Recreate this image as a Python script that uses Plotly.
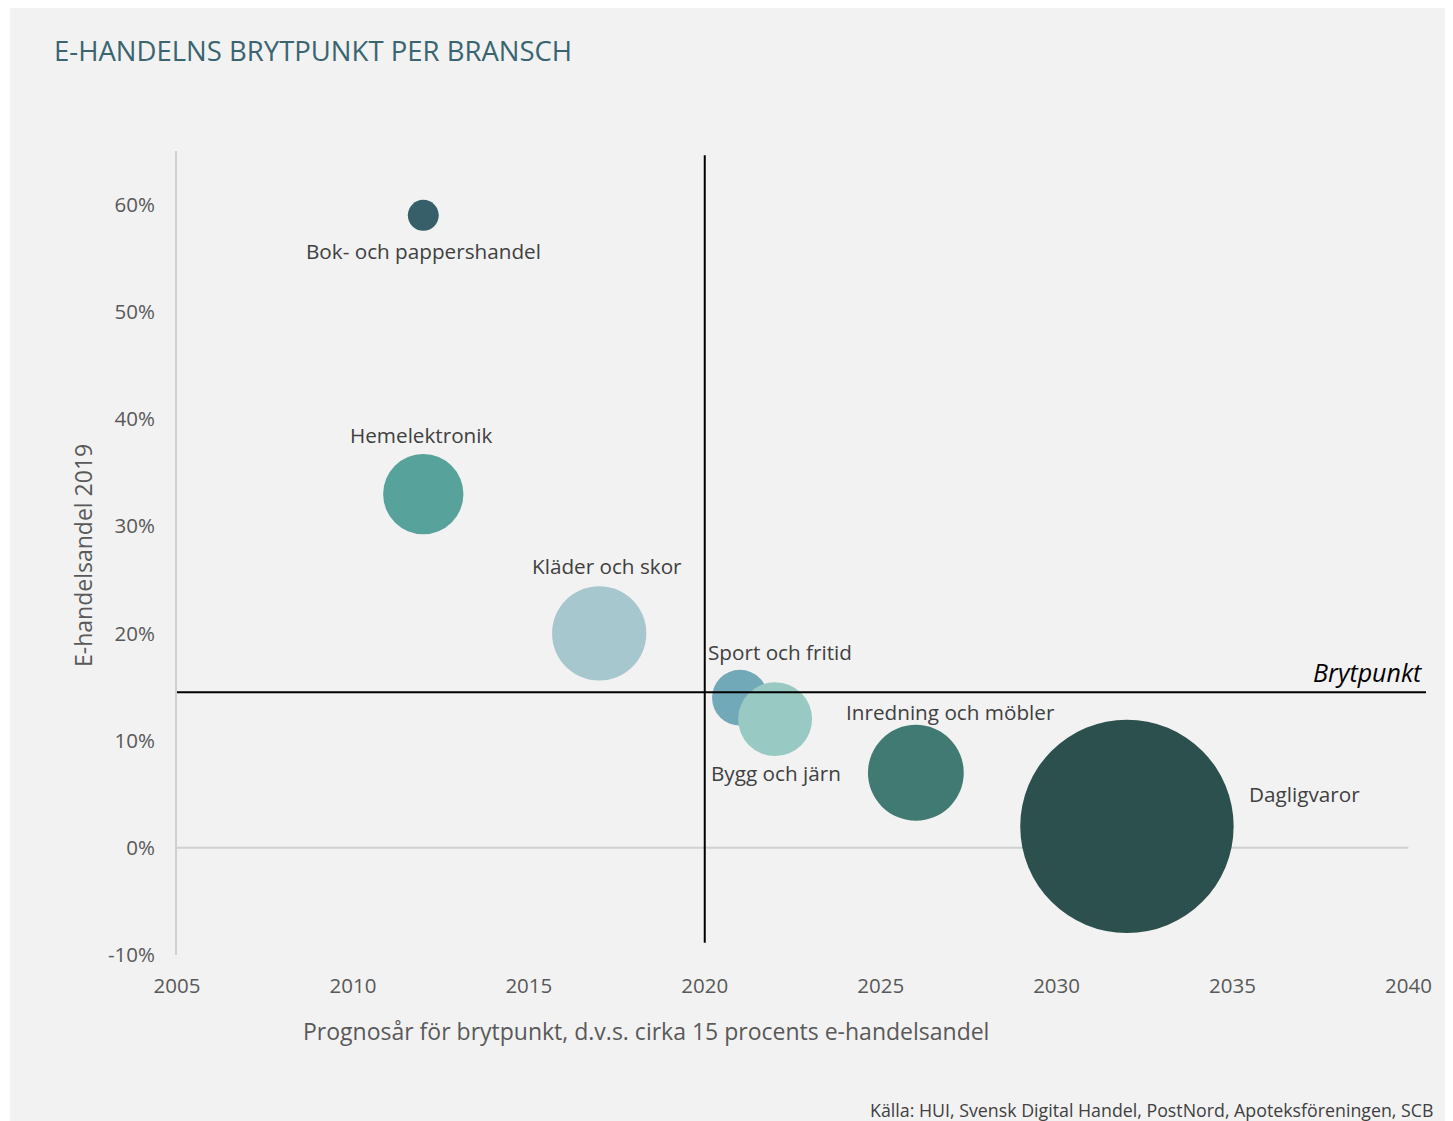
import plotly.graph_objects as go

# ---- data ----
branscher = ["Bok- och pappershandel", "Hemelektronik", "Kläder och skor",
             "Sport och fritid", "Bygg och järn", "Inredning och möbler", "Dagligvaror"]
brytpunkt_ar = [2012, 2012, 2017, 2021, 2022, 2026, 2032]
ehandelsandel_2019 = [59, 33, 20, 14, 12, 7, 2]
bubbelstorlek = [6.3, 42.5, 58.5, 20.5, 36, 60.5, 300]
farger = ["#365f69", "#57a29b", "#a6c7ce", "#72a9b8", "#99c9c3", "#417a72", "#2c504e"]
x_ticks = [2005, 2010, 2015, 2020, 2025, 2030, 2035, 2040]
y_ticks = [-10, 0, 10, 20, 30, 40, 50, 60]
y_ticktext = ["-10%", "0%", "10%", "20%", "30%", "40%", "50%", "60%"]
brytpunkt_andel = 14.5
brytpunkt_referensar = 2020

# label offsets (px) relative to bubble centres: (xshift, yshift, xanchor)
label_pos = [(0, -36, "center"), (-2, 59, "center"), (8, 67, "center"),
             (40, 46, "center"), (1, -54, "center"), (35, 61, "center"),
             (120, 32, "left")]

BG = "#f2f2f2"
FONT = "Open Sans"
max_r = 106.7
sizeref = max(bubbelstorlek) / (2 * max_r ** 2)

W, H = 1445, 1113
PW = 1248.6   # plot width px
PH = 804.6    # plot height px
L, T = 169, 142.7

fig = go.Figure()
fig.add_trace(go.Scatter(
    x=brytpunkt_ar, y=ehandelsandel_2019, mode="markers",
    marker=dict(size=bubbelstorlek, sizemode="area", sizeref=sizeref,
                color=farger, opacity=1, line=dict(width=0)),
    hoverinfo="text", text=branscher, showlegend=False,
))

for name, xv, yv, (xs, ys, xa) in zip(branscher, brytpunkt_ar, ehandelsandel_2019, label_pos):
    fig.add_annotation(x=xv, y=yv, text=name, showarrow=False, xshift=xs, yshift=ys,
                       xanchor=xa, yanchor="middle",
                       font=dict(family=FONT, size=20.7, color="#404040"))

# zero line (axis baseline)
fig.add_shape(type="line", xref="x", yref="y", x0=x_ticks[0], x1=x_ticks[-1], y0=0, y1=0,
              line=dict(color="#d0d0d0", width=2), layer="below")
# break point lines
fig.add_shape(type="line", xref="x", yref="y", x0=x_ticks[0] - 0.1, x1=x_ticks[-1] + 0.5,
              y0=brytpunkt_andel, y1=brytpunkt_andel, line=dict(color="black", width=2), layer="above")
fig.add_shape(type="line", xref="x", yref="y", x0=brytpunkt_referensar, x1=brytpunkt_referensar,
              y0=-8.85, y1=64.6, line=dict(color="black", width=2), layer="above")

fig.add_annotation(x=x_ticks[-1] + 0.45, y=brytpunkt_andel, text="<i>Brytpunkt</i>", showarrow=False,
                   xanchor="right", yanchor="bottom", yshift=1,
                   font=dict(family=FONT, size=25, color="black"))

def px(xp):
    return (xp - 177) / PW

def py(yp):
    return (955.3 - yp) / PH

# titles
fig.add_annotation(xref="paper", yref="paper", x=px(52), y=py(50),
                   text="E-HANDELNS BRYTPUNKT PER BRANSCH", showarrow=False,
                   xanchor="left", yanchor="middle",
                   font=dict(family=FONT, size=27.5, color="#3a6570"))
fig.add_annotation(xref="paper", yref="paper", x=px(646), y=py(1031),
                   text="Prognosår för brytpunkt, d.v.s. cirka 15 procents e-handelsandel",
                   showarrow=False, xanchor="center", yanchor="middle",
                   font=dict(family=FONT, size=23, color="#595959"))
fig.add_annotation(xref="paper", yref="paper", x=px(83), y=py(555),
                   text="E-handelsandel 2019", textangle=-90, showarrow=False,
                   xanchor="center", yanchor="middle",
                   font=dict(family=FONT, size=23, color="#595959"))
fig.add_annotation(xref="paper", yref="paper", x=px(868), y=py(1110),
                   text="Källa: HUI, Svensk Digital Handel, PostNord, Apoteksföreningen, SCB",
                   showarrow=False, xanchor="left", yanchor="middle",
                   font=dict(family=FONT, size=17.8, color="#404040"))

# thin white strip at the left edge
fig.add_shape(type="rect", xref="paper", yref="paper", x0=-L / PW - 0.01, x1=(2 - L) / PW,
              y0=-0.3, y1=1.3, fillcolor="white", line=dict(width=0), layer="below")

fig.update_layout(
    width=W, height=H,
    margin=dict(l=L, r=W - L - PW, t=T, b=H - T - PH),
    paper_bgcolor=BG, plot_bgcolor=BG,
    font=dict(family=FONT, color="#595959"),
    xaxis=dict(range=[x_ticks[0], x_ticks[-1] + 0.5], tickvals=x_ticks, showgrid=False,
               zeroline=False, showline=False, ticks="", ticklabelstandoff=16,
               tickfont=dict(family=FONT, size=20.5, color="#595959")),
    yaxis=dict(range=[-10, 65], tickvals=y_ticks, ticktext=y_ticktext, showgrid=False,
               zeroline=False, showline=True, linecolor="#d0d0d0", linewidth=2,
               ticks="", ticklabelstandoff=16,
               tickfont=dict(family=FONT, size=20.5, color="#595959")),
)

fig.write_html("out.html")
